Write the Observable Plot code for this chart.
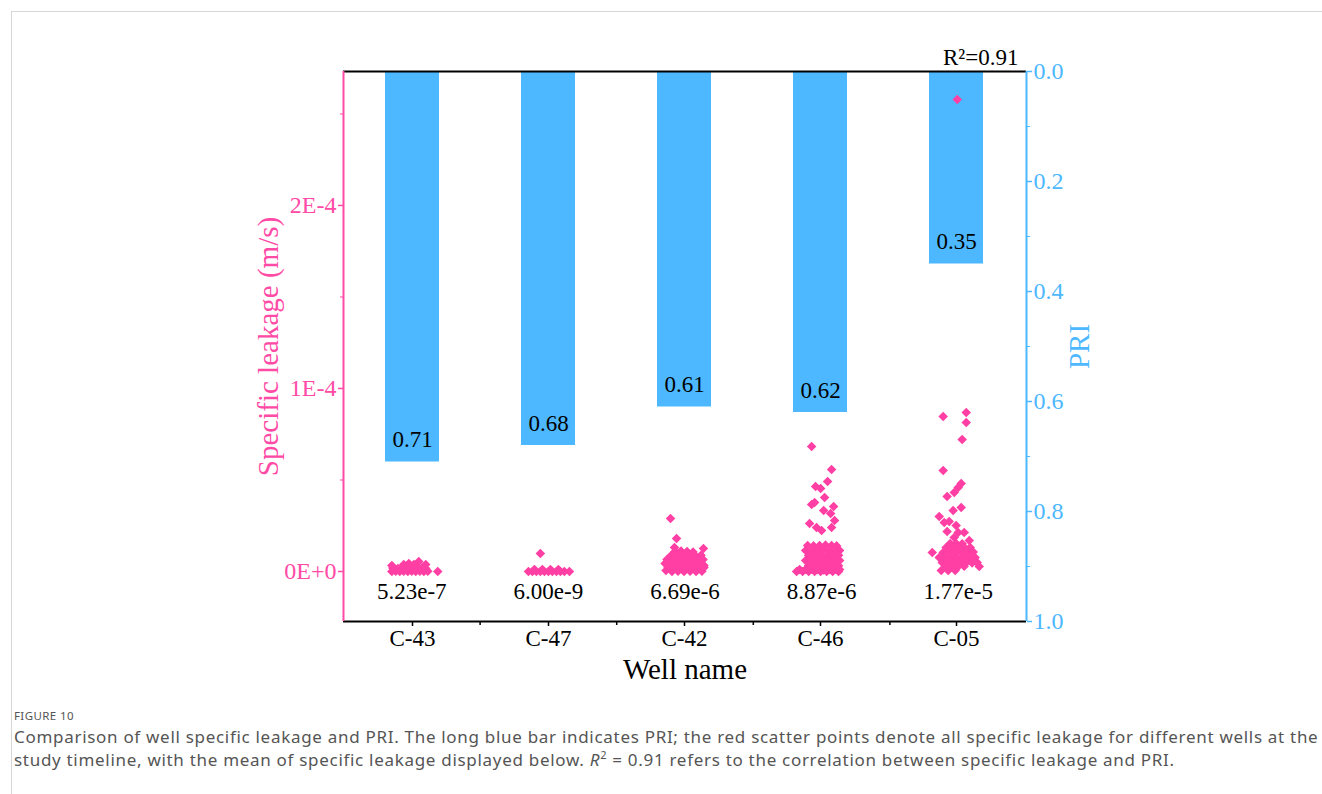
<!DOCTYPE html>
<html>
<head>
<meta charset="utf-8">
<script src="https://cdn.jsdelivr.net/npm/d3@7"></script>
<script src="https://cdn.jsdelivr.net/npm/@observablehq/plot@0.6"></script>
<style>
  body { margin: 0; background: #fff; }
  #fig { position: relative; width: 1322px; height: 794px; overflow: hidden; background: #fff; }
  #card { position: absolute; left: 11px; top: 11px; right: 0; bottom: 0;
          border-top: 1px solid #d6d6d6; border-left: 1px solid #d6d6d6; }
  #chart svg { position: absolute; left: 0; top: 0; }
  #caption { position: absolute; left: 14px; top: 707px; font-family: "Noto Sans", sans-serif; color: #555; }
  #caption .fig-no { font-size: 11.5px; letter-spacing: 0.4px; line-height: 18px; color: #555; }
  #caption .text { font-size: 17px; letter-spacing: 0.7px; line-height: 23px; white-space: nowrap; }
</style>
</head>
<body>
<div id="fig">
  <div id="card"></div>
  <div id="chart"></div>
  <div id="caption">
    <div class="fig-no">FIGURE 10</div>
    <div class="text">Comparison of well specific leakage and PRI. The long blue bar indicates PRI; the red scatter points denote all specific leakage for different wells at the<br>study timeline, with the mean of specific leakage displayed below. <i>R</i><sup style="font-size:11px;line-height:0">2</sup> = 0.91 refers to the correlation between specific leakage and PRI.</div>
  </div>
</div>
<script>
// Wells, their PRI and mean specific leakage
const wells = ["C-43", "C-47", "C-42", "C-46", "C-05"];
const priValues = [0.71, 0.68, 0.61, 0.62, 0.35];
const meanLeakage = [5.23e-7, 6.00e-9, 6.69e-6, 8.87e-6, 1.77e-5];
const rSquared = 0.91;

// Axis ticks
const leakTicks = [0, 1e-4, 2e-4];
const leakTickLabels = ["0E+0", "1E-4", "2E-4"];
const leakMinorTicks = [0.5e-4, 1.5e-4, 2.5e-4];
const priTicks = [0, 0.2, 0.4, 0.6, 0.8, 1.0];
const priMinorTicks = [0.1, 0.3, 0.5, 0.7, 0.9];

// Individual specific leakage samples per well:
// [horizontal jitter within the well column, leakage in 1e-6 m/s]
const samplesC43 = [
  [-0.146, 0], [-0.117, 0.2], [-0.088, 0], [-0.059, 0.1], [-0.029, 0], [0, 0.2], [0.029, 0], [0.059, 0.1], [0.088, 0], [0.117, 0.2],
  [-0.139, 1.9], [-0.102, 1.6], [-0.073, 2.0], [-0.044, 1.8], [-0.015, 2.1], [0.015, 1.7], [0.044, 2.0], [0.073, 1.9], [0.102, 1.6],
  [-0.146, 3.3], [-0.059, 3.8], [-0.022, 4.4], [0.051, 5.5], [0.102, 3.8], [0.015, 3.8], [0.19, 0]
];
const samplesC47 = [
  [-0.146, 0], [-0.117, 0], [-0.088, 0], [-0.059, 0], [-0.029, 0], [0, 0], [0.029, 0], [0.059, 0], [0.088, 0], [0.117, 0], [0.154, 0],
  [-0.102, 1.1], [-0.044, 1.1], [0.015, 1.1], [0.073, 1.1], [-0.059, 9.8]
];
const samplesC42 = [
  [-0.106, 29.0], [-0.062, 18.0], [-0.077, 13.1], [0.135, 12.6],
  [-0.073, 10.9], [-0.029, 11.2], [0.015, 10.9], [0.059, 10.6],
  [-0.102, 8.7], [-0.059, 8.9], [-0.015, 8.7], [0.029, 8.5], [0.073, 8.7], [0.117, 8.9],
  [-0.132, 6.6], [-0.088, 6.4], [-0.044, 6.6], [0, 6.8], [0.044, 6.6], [0.088, 6.4], [0.132, 6.6],
  [-0.146, 4.4], [-0.102, 4.6], [-0.059, 4.4], [-0.015, 4.2], [0.029, 4.4], [0.073, 4.6], [0.117, 4.4],
  [-0.124, 2.2], [-0.081, 2.0], [-0.037, 2.2], [0.007, 2.4], [0.051, 2.2], [0.095, 2.0], [0.139, 2.2],
  [-0.095, 0], [-0.051, 0.2], [-0.007, 0], [0.037, 0.1], [0.081, 0], [0.124, 0.2], [-0.139, 0.5], [0.139, 3.3]
];
const samplesC46 = [
  [-0.073, 68.3], [0.073, 55.7], [0.044, 49.2], [-0.044, 46.4], [-0.007, 45.4], [0.022, 40.4],
  [-0.073, 36.6], [-0.051, 37.7], [0.015, 33.3], [0.088, 35.5], [0.066, 31.7], [-0.088, 26.2],
  [-0.037, 24.0], [0, 22.4], [0.095, 27.9], [0.073, 24.0],
  [-0.102, 14.2], [-0.059, 14.0], [-0.015, 14.2], [0.029, 14.4], [0.073, 14.2], [0.110, 14.0],
  [-0.117, 11.5], [-0.073, 11.3], [-0.029, 11.5], [0.015, 11.7], [0.059, 11.5], [0.102, 11.3], [0.132, 11.5],
  [-0.095, 8.7], [-0.051, 8.9], [-0.007, 8.7], [0.037, 8.5], [0.081, 8.7], [0.124, 8.9],
  [-0.117, 6.0], [-0.073, 6.2], [-0.029, 6.0], [0.015, 5.8], [0.059, 6.0], [0.102, 6.2], [0.132, 6.0],
  [-0.095, 3.3], [-0.051, 3.1], [-0.007, 3.3], [0.037, 3.5], [0.081, 3.3], [0.124, 3.1],
  [-0.161, 1.1], [-0.117, 1.1], [-0.073, 1.3], [-0.029, 1.1], [0.015, 0.9], [0.059, 1.1], [0.102, 1.3], [0.132, 1.1],
  [-0.183, 0], [-0.139, 0], [-0.095, 0], [-0.051, 0], [-0.007, 0], [0.037, 0], [0.081, 0], [0.124, 0]
];
const samplesC05 = [
  [-0.007, 257.9], [-0.110, 84.7], [0.059, 86.9], [0.059, 81.4], [0.029, 72.1], [-0.110, 55.2],
  [0.022, 48.1], [0, 45.9], [-0.029, 43.2], [-0.081, 41.0], [0.022, 35.0], [-0.037, 33.3],
  [-0.139, 30.1], [-0.066, 27.3], [-0.015, 25.1], [-0.102, 26.8], [-0.081, 21.9], [0, 21.3],
  [0.044, 21.3], [-0.029, 18.6], [0.081, 16.9],
  [-0.059, 15.3], [-0.015, 15.3], [0.029, 15.1],
  [-0.088, 13.1], [-0.044, 12.9], [0, 13.1], [0.044, 13.3], [0.088, 13.1],
  [-0.190, 10.4], [-0.110, 10.4], [-0.066, 10.6], [-0.022, 10.4], [0.022, 10.2], [0.066, 10.4], [0.110, 10.6],
  [-0.139, 7.6], [-0.095, 7.8], [-0.051, 7.6], [-0.007, 7.4], [0.037, 7.6], [0.081, 7.8], [0.124, 7.6],
  [-0.117, 4.9], [-0.073, 4.7], [-0.029, 4.9], [0.015, 5.1], [0.059, 4.9], [0.102, 4.7], [0.139, 4.9],
  [-0.088, 2.7], [-0.044, 2.5], [0, 2.7], [0.044, 2.9], [0.154, 2.7],
  [-0.124, 0.5], [-0.073, 0.5], [-0.022, 0.5]
];
const samplesByWell = [samplesC43, samplesC47, samplesC42, samplesC46, samplesC05];

// Tables built from the arrays above
const wellRows = wells.map((well, i) => ({well, index: i, pri: priValues[i], mean: meanLeakage[i]}));
const samples = samplesByWell.flatMap((list, i) =>
  list.map(([jitter, leak]) => ({well: wells[i], pos: i + jitter, leak: leak * 1e-6}))
);

// Shared layout
const W = 1322, H = 700;
const margins = {marginLeft: 343, marginRight: 296, marginTop: 71, marginBottom: 79};
const SERIF = "'Liberation Serif', 'Times New Roman', serif";
const BLUE = "#4db8ff";
const PINK = "#ff4aa6";
const DOT = "#ff3fa3";
const leakDomain = [-0.2732e-4, 2.732e-4];

// Layer 1: PRI bars on a reversed 0–1 scale with the right-hand axis
const priChart = Plot.plot({
  width: W, height: H, ...margins,
  style: {fontFamily: SERIF, fontSize: "20px", background: "transparent"},
  x: {type: "band", domain: wells, paddingInner: 0.6, paddingOuter: 0.3},
  y: {domain: [0, 1], reverse: true},
  marks: [
    Plot.barY(wellRows, {x: "well", y1: 0, y2: "pri", fill: BLUE}),
    Plot.text(wellRows, {x: "well", y: "pri", text: d => d.pri.toFixed(2), dy: -22, fill: "#000", fontSize: 23}),
    Plot.axisX({tickSize: 5, tickPadding: 3, fontSize: 23, color: "#000", label: null, strokeWidth: 1.5}),
    Plot.axisY({anchor: "right", ticks: priTicks, tickFormat: d => d.toFixed(1), tickSize: 5, tickPadding: 2,
                color: BLUE, fontSize: 24, label: null, strokeWidth: 1.5}),
    Plot.axisY({anchor: "right", ticks: priMinorTicks, tickFormat: () => "", tickSize: 3, color: BLUE, label: null}),
    Plot.text(["PRI"], {frameAnchor: "right", textAnchor: "middle", dx: 53, rotate: -90, fill: BLUE, fontSize: 29})
  ]
});

// Layer 2: specific leakage samples, means and the left-hand axis
const leakChart = Plot.plot({
  width: W, height: H, ...margins,
  style: {fontFamily: SERIF, fontSize: "20px", background: "transparent"},
  x: {domain: [-0.5, 4.5]},
  y: {domain: leakDomain},
  marks: [
    Plot.dot(samples, {x: "pos", y: "leak", symbol: "diamond2", r: 4.3, fill: DOT}),
    Plot.text(wellRows, {x: "index", y: 0, dy: 20, text: d => d.mean.toExponential(2), fill: "#000", fontSize: 23}),
    Plot.ruleY([leakDomain[1], leakDomain[0]], {stroke: "#000", strokeWidth: 2}),
    Plot.ruleX([-0.5], {stroke: PINK, strokeWidth: 2}),
    Plot.ruleX([4.5], {stroke: BLUE, strokeWidth: 2}),
    Plot.axisX({ticks: [0.5, 1.5, 2.5, 3.5], tickFormat: () => "", tickSize: 4, color: "#000", label: null, strokeWidth: 1.5}),
    Plot.axisY({ticks: leakTicks, tickFormat: d => leakTickLabels[leakTicks.indexOf(d)], tickSize: 5, tickPadding: 2,
                color: PINK, fontSize: 24, label: null, strokeWidth: 1.5}),
    Plot.axisY({ticks: leakMinorTicks, tickFormat: () => "", tickSize: 3, color: PINK, label: null}),
    Plot.text(["Specific leakage (m/s)"], {frameAnchor: "left", textAnchor: "middle", dx: -75, rotate: -90, fill: PINK, fontSize: 29}),
    Plot.text(["Well name"], {frameAnchor: "bottom", lineAnchor: "middle", dy: 48, fill: "#000", fontSize: 29}),
    Plot.text([`R²=${rSquared.toFixed(2)}`], {frameAnchor: "top-right", textAnchor: "end", lineAnchor: "middle",
                                              dx: -8, dy: -14, fill: "#000", fontSize: 23})
  ]
});

const chart = document.getElementById("chart");
chart.append(priChart, leakChart);
</script>
</body>
</html>
